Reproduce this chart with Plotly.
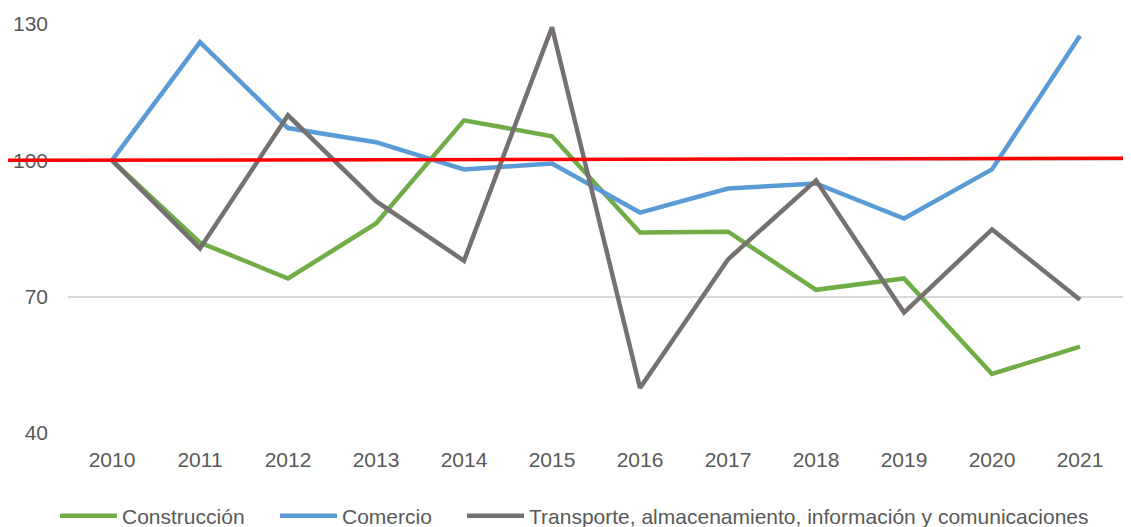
import plotly.graph_objects as go

years = ["2010", "2011", "2012", "2013", "2014", "2015", "2016", "2017", "2018", "2019", "2020", "2021"]
construccion = [100, 81.9, 74.0, 86.1, 108.8, 105.3, 84.1, 84.3, 71.5, 74.0, 53.0, 59.0]
comercio = [100, 126.0, 107.1, 104.0, 98.0, 99.3, 88.5, 93.8, 94.9, 87.2, 98.0, 127.4]
transporte = [100, 80.6, 109.9, 91.0, 77.9, 129.3, 49.9, 78.2, 95.6, 66.5, 84.8, 69.3]
y_ticks = [40, 70, 100, 130]
ref_start, ref_end = 100.0, 100.45

FONT = "Liberation Sans, Arial, Helvetica, sans-serif"
TXT = "#595959"
# page body has an 8px margin, so the figure is 8px smaller than the window
W, H = 1123, 519

fig = go.Figure()
series = [
    ("Construcción", construccion, "#70AD47", "legend", 47),
    ("Comercio", comercio, "#5B9BD5", "legend2", 267),
    ("Transporte, almacenamiento, información y comunicaciones", transporte, "#767171", "legend3", 454),
]
legends = {}
for name, vals, col, lg, lx in series:
    fig.add_trace(go.Scatter(x=years, y=vals, name=name, mode="lines", legend=lg,
                             line=dict(color=col, width=4.5)))
    legends[lg] = dict(orientation="h", xref="container", yref="container",
                       x=lx / W, xanchor="left", y=11 / H, yanchor="middle",
                       itemwidth=57, font=dict(size=21, color=TXT),
                       bgcolor="rgba(0,0,0,0)", borderwidth=0)

fig.add_shape(type="line", xref="paper", yref="y", x0=-0.0568, x1=1.0066,
              y0=ref_start, y1=ref_end, line=dict(color="#FF0000", width=3.5))

fig.update_layout(
    width=W, height=H,
    margin=dict(l=60, r=7, t=16, b=94),
    paper_bgcolor="white", plot_bgcolor="white",
    font=dict(family=FONT, size=21, color=TXT),
    showlegend=True,
    xaxis=dict(type="category", range=[-0.5, 11.5], showgrid=False, showline=False,
               zeroline=False, ticks="", automargin=False,
               tickfont=dict(size=21, color=TXT), ticklabelstandoff=12),
    yaxis=dict(range=[40, 130], tickvals=y_ticks, showgrid=True, gridcolor="#D9D9D9",
               gridwidth=1.5, zeroline=False, showline=False, ticks="", automargin=False,
               tickfont=dict(size=21, color=TXT), ticklabelstandoff=19),
    **legends,
)
fig.write_html("out.html")
